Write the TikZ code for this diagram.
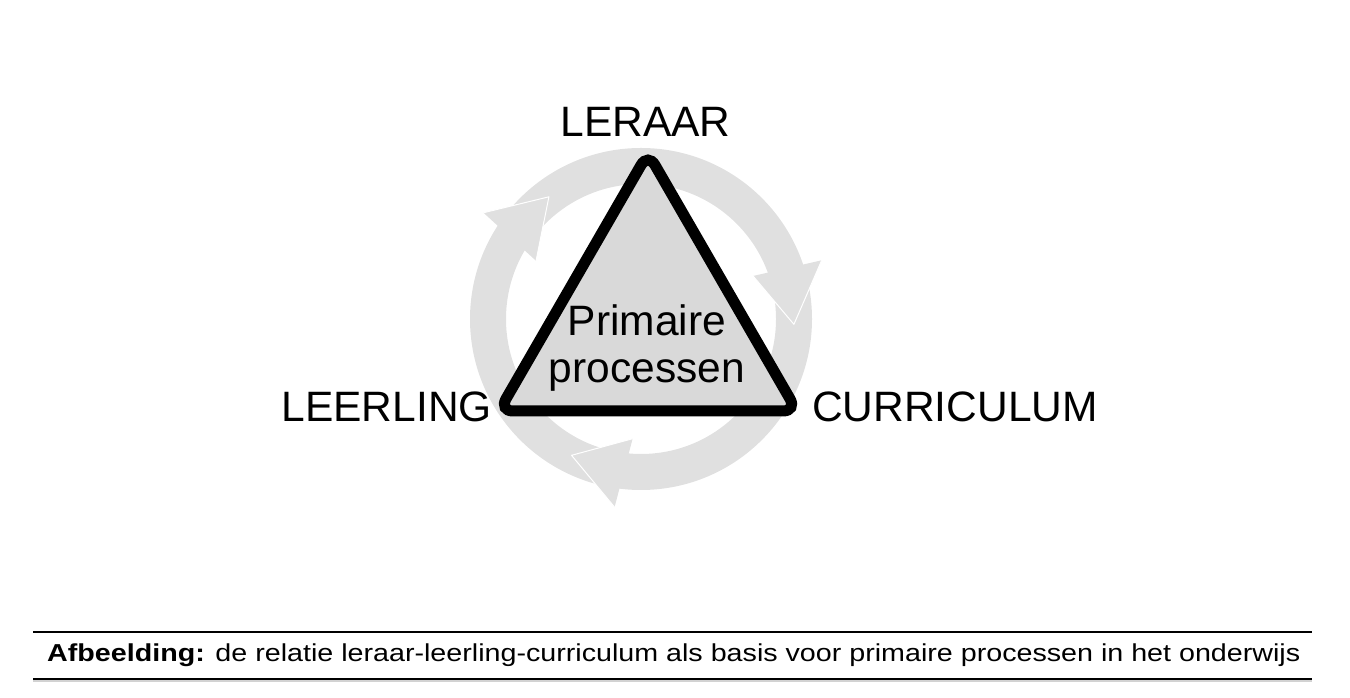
\documentclass[tikz,border=0pt]{standalone}
\usepackage{fontspec}
\setmainfont{Liberation Sans}
\newfontfamily\capfont[FakeStretch=1.17]{Liberation Sans}
\definecolor{ringgray}{HTML}{E0E0E0}
\definecolor{trigray}{HTML}{D9D9D9}
\tikzset{
  >=latex,
}
\tikzstyle{corner}=[font=\fontsize{42.5}{50}\selectfont,inner sep=0pt]
\tikzstyle{rule}=[line width=2.5pt]

\begin{document}
\begin{tikzpicture}[x=1pt,y=1pt]
    \useasboundingbox (0,0) rectangle (1350,698);
    % circle of arrows
    \begin{scope}[shift={(641,379)}]
      \draw[ringgray,line width=36pt] (0,0) circle (153);
      \foreach \ai/\ao/\at in {151/146/127,21/18/-2,266/262/243}{
        \fill[ringgray] (\ai:120) -- (\at:153) -- (\ao:190) -- cycle;
        \draw[white,line width=1pt,line join=round] (\ai:120) -- (\at:153) -- (\ao:190);
      }
    \end{scope}
    % triangle
    \coordinate (lft) at (499,287);
    \coordinate (top) at (648,545);
    \coordinate (rgt) at (797,287);
    \draw[line width=11pt,rounded corners=14pt,fill=trigray] (lft)--(top)--(rgt)--cycle;
    \node[align=center,inner sep=0pt,font=\fontsize{42.5}{47}\selectfont] (proc) at (647,350) {Primaire\\processen};
    \node[corner,anchor=base] (leraar) at (645.5,561) {LERAAR};
    \node[corner,anchor=base east] (leerling) at (492,276) {LEERLING};
    \node[corner,anchor=base west] (curr) at (812,276) {CURRICULUM};
    % caption
    \draw[rule] (33,66)--(1312,66);
    \draw[gray!35,line width=2pt] (33,16.5)--(1312,16.5);
    \draw[rule] (33,19)--(1312,19);
    \node[anchor=base west,inner sep=0pt,font=\capfont\fontsize{24.5}{28}\selectfont] (cap) at (47,36)
      {\textbf{Afbeelding:} de relatie leraar-leerling-curriculum als basis voor primaire processen in het onderwijs};
  \end{tikzpicture}
\end{document}
